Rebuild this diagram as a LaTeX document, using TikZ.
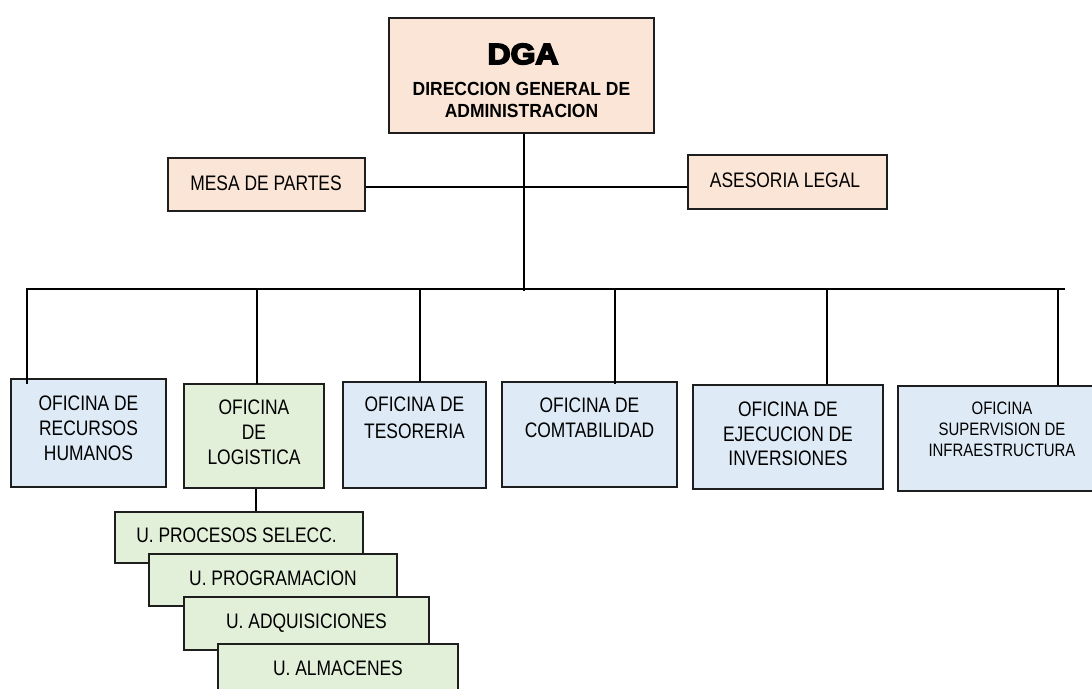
\documentclass[tikz,border=0pt]{standalone}
\usepackage{fontspec}
\setmainfont{Liberation Sans}
\newfontfamily\nfont{Liberation Sans}[FakeStretch=0.83]
\newfontfamily\bnfont{Liberation Sans}[FakeStretch=0.92]
\newfontfamily\dgafont{Liberation Sans}[BoldFeatures={FakeBold=6,FakeStretch=1.1}]
\usetikzlibrary{fit}
\definecolor{peach}{HTML}{FBE5D6}
\definecolor{lblue}{HTML}{DEEBF7}
\definecolor{lgreen}{HTML}{E2F0D9}
\definecolor{edge}{HTML}{1E1E1E}
\tikzset{
  box/.style={draw=edge, line width=1.6pt, inner sep=0pt, rectangle},
  pbox/.style={box, fill=peach},
  bbox/.style={box, fill=lblue},
  gbox/.style={box, fill=lgreen},
  conn/.style={draw=black, line width=1.8pt},
  txt/.style={inner sep=0pt, align=center, text=black, font={\nfont\fontsize{21}{25}\selectfont}},
  stxt/.style={inner sep=0pt, align=center, text=black, font={\nfont\fontsize{18}{21}\selectfont}},
}
\begin{document}
\begin{tikzpicture}[x=1pt,y=-1pt]
\useasboundingbox (0,0) rectangle (1092,688);
\clip (0,0) rectangle (1092,688);
% boxes
\node[pbox, fit={(389,18)(654,133)}] (dga) {};
\node[pbox, fit={(168,158)(365,211)}] (mesa) {};
\node[pbox, fit={(688,155)(887,209)}] (ases) {};
\node[bbox, fit={(11,379)(166,487)}] (rrhh) {};
\node[gbox, fit={(184,384)(324,488)}] (logi) {};
\node[bbox, fit={(343,382)(486,488)}] (teso) {};
\node[bbox, fit={(502,382)(677,487)}] (comt) {};
\node[bbox, fit={(693,385)(883,489)}] (ejec) {};
\node[bbox, fit={(898,386)(1100,491)}] (supe) {};
% coordinates
\coordinate (jn) at (524,289);
\coordinate (hl) at (0,187);
\coordinate (busL) at (26,289);
\coordinate (busR) at (1065,289);
\coordinate (d1) at (27,289);
\coordinate (d2) at (257,289);
\coordinate (d3) at (420,289);
\coordinate (d4) at (615,289);
\coordinate (d5) at (827,289);
\coordinate (d6) at (1058,289);
\coordinate (ls) at (256,500);
% connectors
\draw[conn] (dga.south -| jn) -- (jn) -- ++(0,2);
\draw[conn] (mesa.east |- hl) -- (ases.west |- hl);
\draw[conn] (busL) -- (busR);
\draw[conn] (d1) -- (d1 |- rrhh.north) -- ++(0,6);
\draw[conn] (d2) -- (d2 |- logi.north) -- ++(0,1);
\draw[conn] (d3) -- (d3 |- teso.north);
\draw[conn] (d4) -- (d4 |- comt.north) -- ++(0,3);
\draw[conn] (d5) -- (d5 |- ejec.north);
\draw[conn] (d6) -- (d6 |- supe.north);
\draw[conn, line width=1.3pt] (logi.south -| ls) -- (ls |- 0,512);
% sub units
\node[gbox, fit={(115,512)(363,563)}] (s1) {};
\node[gbox, fit={(149,554)(397,606)}] (s2) {};
\node[gbox, fit={(184,597)(429,650)}] (s3) {};
\node[gbox, fit={(218,644)(458,700)}] (s4) {};
% texts
\node[inner sep=0pt, anchor=base, font={\dgafont\bfseries\fontsize{29}{30}\selectfont}] (dgat) at (523,64) {DGA};
\node[inner sep=0pt, anchor=north, align=center, font={\bnfont\bfseries\fontsize{19}{22}\selectfont}] (dgas) at (521.5,82) {DIRECCION GENERAL DE\\ADMINISTRACION};
\node[txt, anchor=base] (mesat) at (266,190) {MESA DE PARTES};
\node[txt, anchor=base] (asest) at (785,187) {ASESORIA LEGAL};
\node[txt, anchor=north] (rrhht) at (88.5,396) {OFICINA DE\\RECURSOS\\HUMANOS};
\node[txt, anchor=north] (logit) at (254,400) {OFICINA\\DE\\LOGISTICA};
\node[txt, anchor=north, font={\nfont\fontsize{21}{26.5}\selectfont}] (tesot) at (414.5,397) {OFICINA DE\\TESORERIA};
\node[txt, anchor=north] (comtt) at (589.5,398) {OFICINA DE\\COMTABILIDAD};
\node[txt, anchor=north, font={\nfont\fontsize{21}{24.5}\selectfont}] (eject) at (788,402) {OFICINA DE\\EJECUCION DE\\INVERSIONES};
\node[stxt, anchor=north] (supet) at (1002,402) {OFICINA\\SUPERVISION DE\\INFRAESTRUCTURA};
\node[txt, anchor=base] (s1t) at (236.5,542) {U. PROCESOS SELECC.};
\node[txt, anchor=base] (s2t) at (273,585) {U. PROGRAMACION};
\node[txt, anchor=base] (s3t) at (306.5,628) {U. ADQUISICIONES};
\node[txt, anchor=base] (s4t) at (338,675) {U. ALMACENES};
\end{tikzpicture}
\end{document}
